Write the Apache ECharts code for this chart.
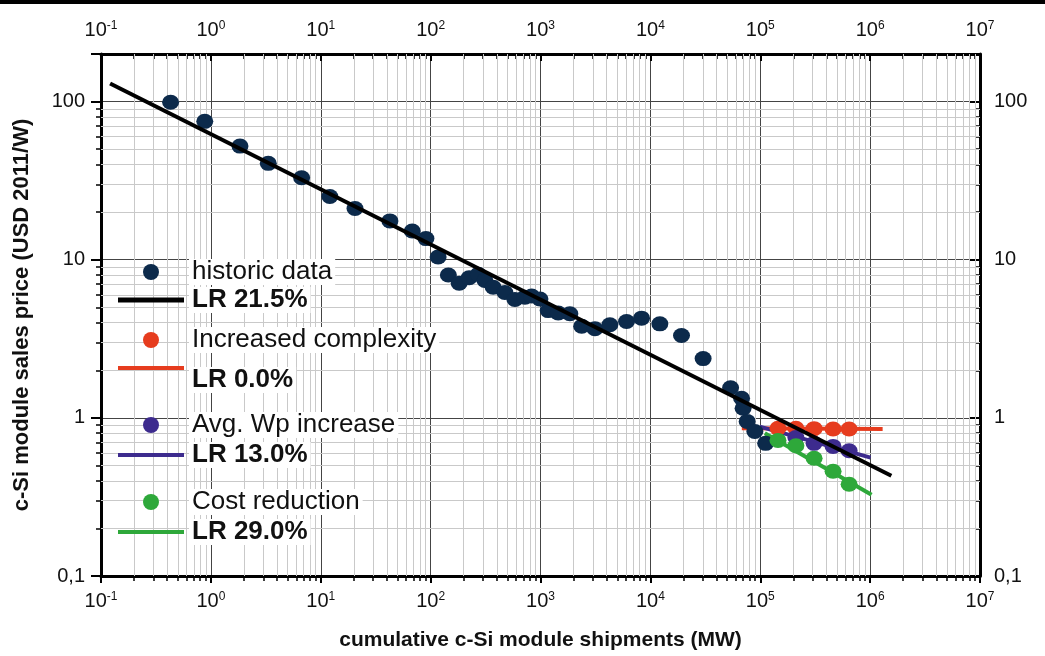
<!DOCTYPE html>
<html>
<head>
<meta charset="utf-8">
<script src="https://cdn.jsdelivr.net/npm/echarts@6/dist/echarts.min.js"></script>
<style>
  html, body { margin: 0; padding: 0; background: #fff; }
  #chart { width: 1045px; height: 656px; }
</style>
</head>
<body>
<div id="chart"></div>
<script>
// historic data: cumulative shipments (MW) and price (USD 2011/W)
const histX = [0.43, 0.88, 1.84, 3.33, 6.7, 12.1, 20.5, 42.6, 68, 90.6, 117, 145, 182, 224, 271, 312, 371, 474, 585, 721, 830, 988, 1175, 1450, 1850, 2370, 3130, 4280, 6070, 8310, 12200, 19200, 30200, 53700, 67600, 69800, 76000, 89300, 112000];
const histY = [99, 75, 52.3, 40.7, 33, 25.1, 21.1, 17.6, 15.2, 13.6, 10.4, 8.0, 7.1, 7.7, 8.1, 7.4, 6.7, 6.2, 5.6, 5.8, 5.9, 5.65, 4.77, 4.6, 4.55, 3.8, 3.66, 3.88, 4.07, 4.27, 3.93, 3.32, 2.37, 1.55, 1.33, 1.15, 0.95, 0.82, 0.69];

// learning-rate fit lines (end points)
const lr215X = [0.121, 1560000];
const lr215Y = [130, 0.43];
const lr0X = [68000, 1300000];
const lr0Y = [0.86, 0.85];
const lr13X = [99000, 1010000];
const lr13Y = [0.88, 0.56];
const lr29X = [110000, 1030000];
const lr29Y = [0.80, 0.326];

// scenario points
const scenX = [145000, 211000, 309000, 460000, 644000];
const complexY = [0.86, 0.86, 0.855, 0.85, 0.85];
const wpY = [null, 0.75, 0.69, 0.66, 0.62];
const costY = [0.72, 0.667, 0.555, 0.46, 0.38];

// tick labels for the price axis
const yTickLabels = { '-1': '0,1', '0': '1', '1': '10', '2': '100' };

const NAVY = '#0c2a4b';
const RED = '#e63c1e';
const PURPLE = '#3d2b8e';
const GREEN = '#2ea83a';

const zip = (xs, ys) => xs.map((x, i) => [x, ys[i]]).filter(p => p[1] != null);

// minor grid positions 2..9 x 10^k
const minorX = [];
for (let k = -1; k < 7; k++) for (let m = 2; m <= 9; m++) minorX.push(+(m * Math.pow(10, k)).toPrecision(3));
const minorY = [];
for (let k = -1; k < 3; k++) for (let m = 2; m <= 9; m++) {
  const v = +(m * Math.pow(10, k)).toPrecision(3);
  if (v < 200) minorY.push(v);
}

const isDecade = v => Math.abs(Math.log10(v) - Math.round(Math.log10(v))) < 1e-6;
const powLabel = v => isDecade(v) ? '10{s|' + Math.round(Math.log10(v)) + '}' : '';
const priceLabel = v => isDecade(v) ? (yTickLabels[Math.round(Math.log10(v))] || '') : '';

const labelFont = { fontFamily: 'Liberation Sans', fontSize: 20, color: '#111' };
const xLabel = {
  ...labelFont,
  formatter: powLabel,
  rich: { s: { fontFamily: 'Liberation Sans', fontSize: 12, color: '#111', verticalAlign: 'top', lineHeight: 12 } }
};
const frame = { show: true, lineStyle: { color: '#000', width: 3 } };
const minor = { show: true, splitNumber: 9, length: 5, lineStyle: { color: '#000', width: 1.5 } };

const chart = echarts.init(document.getElementById('chart'));

// legend: one small block per scenario (marker row + learning-rate row)
const legendText = { fontFamily: 'Liberation Sans', fontSize: 26, color: '#111', backgroundColor: '#fff', padding: [0, 3] };
const lrText = { fontFamily: 'Liberation Sans', fontSize: 26, fontWeight: 'bold', color: '#111', backgroundColor: '#fff', padding: [0, 3] };
// "LR 0.0%" sits a little below its line in the original
const lrLow = {
  fontFamily: 'Liberation Sans', fontSize: 26, fontWeight: 'bold', color: '#111', backgroundColor: 'transparent', padding: 0,
  rich: {
    g: { fontSize: 2, lineHeight: 24 },
    b: { fontFamily: 'Liberation Sans', fontSize: 26, lineHeight: 26, fontWeight: 'bold', color: '#111', backgroundColor: '#fff', padding: [0, 3] }
  }
};
const mkLegend = (top, gap, a, b, bar, low) => ({
  orient: 'vertical', left: 118, top: top, padding: 0, itemWidth: 66, itemHeight: 16, itemGap: gap,
  textStyle: legendText, selectedMode: false,
  formatter: name => name === b && low ? '{g| }\n{b|' + name + '}' : name,
  data: [
    { name: a, icon: 'circle' },
    { name: b, icon: bar, textStyle: low ? lrLow : lrText }
  ]
});

const option = {
  animation: false,
  backgroundColor: '#fff',
  graphic: [{ type: 'rect', left: 0, top: 0, shape: { width: 1045, height: 4 }, style: { fill: '#000' } }],
  grid: { left: 101, right: 65, top: 54, bottom: 78 },
  legend: [
    mkLegend(259, 2, 'historic data', 'LR 21.5%', 'path://M0,0H66V5H0Z'),
    mkLegend(327, -10, 'Increased complexity', 'LR 0.0%', 'path://M0,0H66V4H0Z', true),
    mkLegend(412, 4, 'Avg. Wp increase', 'LR 13.0%', 'path://M0,0H66V4H0Z'),
    mkLegend(489, 4, 'Cost reduction', 'LR 29.0%', 'path://M0,0H66V4H0Z')
  ],
  xAxis: [
    {
      type: 'log', min: 0.1, max: 1e7, interval: 1, position: 'bottom',
      name: 'cumulative c-Si module shipments (MW)', nameLocation: 'middle', nameGap: 54,
      nameTextStyle: { fontFamily: 'Liberation Sans', fontSize: 21, fontWeight: 'bold', color: '#111' },
      axisLine: frame,
      axisTick: { show: true, inside: false, length: 7, lineStyle: { color: '#000', width: 2 } },
      minorTick: minor,
      axisLabel: { ...xLabel, margin: 15 },
      splitLine: { show: true, lineStyle: { color: '#444', width: 1 } }
    },
    {
      type: 'log', min: 0.1, max: 1e7, interval: 1, position: 'top',
      axisLine: frame,
      axisTick: { show: true, inside: true, length: 7, lineStyle: { color: '#000', width: 2 } },
      minorTick: minor,
      axisLabel: { ...xLabel, margin: 14 },
      splitLine: { show: false }
    }
  ],
  yAxis: [
    {
      type: 'log', min: 0.1, max: 200, interval: 1, position: 'left',
      name: 'c-Si module sales price (USD 2011/W)', nameLocation: 'middle', nameGap: 68,
      nameTextStyle: { fontFamily: 'Liberation Sans', fontSize: 22, fontWeight: 'bold', color: '#111' },
      axisLine: frame,
      axisTick: { show: true, inside: false, length: 10, lineStyle: { color: '#000', width: 2 } },
      minorTick: minor,
      axisLabel: { ...labelFont, formatter: priceLabel, margin: 16 },
      splitLine: { show: true, lineStyle: { color: '#444', width: 1 } }
    },
    {
      type: 'log', min: 0.1, max: 200, interval: 1, position: 'right',
      axisLine: frame,
      axisTick: { show: true, inside: true, length: 10, lineStyle: { color: '#000', width: 2 } },
      minorTick: minor,
      axisLabel: { ...labelFont, formatter: priceLabel, margin: 14 },
      splitLine: { show: false }
    }
  ],
  series: [
    {
      // minor grid
      name: 'grid', type: 'line', data: [], silent: true, z: 1,
      markLine: {
        silent: true, symbol: 'none', label: { show: false }, animation: false, z: 1,
        lineStyle: { color: '#c9c9c9', width: 1, type: 'solid' },
        emphasis: { disabled: true },
        data: minorX.map(v => ({ xAxis: v })).concat(minorY.map(v => ({ yAxis: v })))
      }
    },
    {
      name: 'historic data', type: 'scatter', data: zip(histX, histY),
      symbolSize: [17, 15], itemStyle: { color: NAVY, opacity: 1 }, z: 3
    },
    {
      name: 'LR 21.5%', type: 'line', data: zip(lr215X, lr215Y), symbol: 'none',
      lineStyle: { color: '#000', width: 4 }, itemStyle: { color: '#000' }, z: 4
    },
    {
      name: 'LR 0.0%', type: 'line', data: zip(lr0X, lr0Y), symbol: 'none',
      lineStyle: { color: RED, width: 4 }, itemStyle: { color: RED }, z: 3
    },
    {
      name: 'Increased complexity', type: 'scatter', data: zip(scenX, complexY),
      symbolSize: [17, 15], itemStyle: { color: RED, opacity: 1 }, z: 3
    },
    {
      name: 'LR 13.0%', type: 'line', data: zip(lr13X, lr13Y), symbol: 'none',
      lineStyle: { color: PURPLE, width: 4 }, itemStyle: { color: PURPLE }, z: 3
    },
    {
      name: 'Avg. Wp increase', type: 'scatter', data: zip(scenX, wpY),
      symbolSize: [17, 15], itemStyle: { color: PURPLE, opacity: 1 }, z: 3
    },
    {
      name: 'LR 29.0%', type: 'line', data: zip(lr29X, lr29Y), symbol: 'none',
      lineStyle: { color: GREEN, width: 4 }, itemStyle: { color: GREEN }, z: 3
    },
    {
      name: 'Cost reduction', type: 'scatter', data: zip(scenX, costY),
      symbolSize: [17, 15], itemStyle: { color: GREEN, opacity: 1 }, z: 3
    }
  ]
};

chart.setOption(option);
</script>
</body>
</html>
